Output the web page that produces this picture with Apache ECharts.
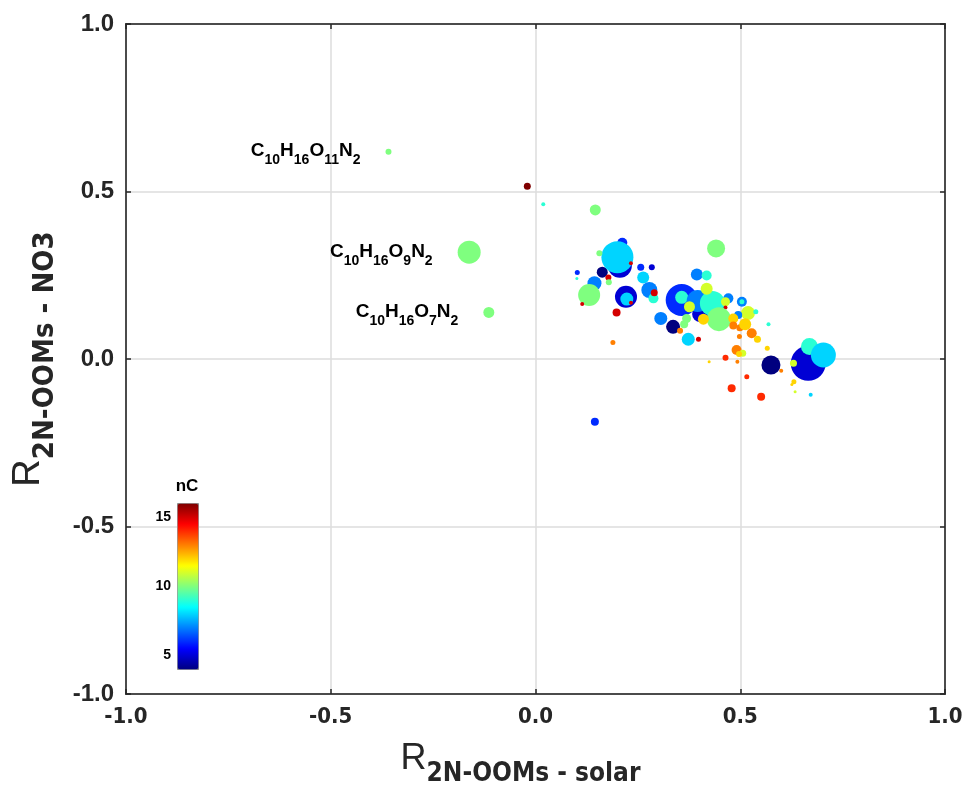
<!DOCTYPE html>
<html>
<head>
<meta charset="utf-8">
<script src="https://cdn.jsdelivr.net/npm/echarts@6/dist/echarts.min.js"></script>
<style>html,body{margin:0;padding:0;background:#fff}#c{width:972px;height:794px}</style>
</head>
<body>
<div id="c"></div>
<script>
// ---- data ----
// R with solar, R with NO3, relative signal (bubble magnitude), carbon number nC
const rSolar = [-0.359,-0.162,-0.114,-0.020,0.019,0.146,0.441,0.145,
  0.206,0.163,0.212,0.200,0.156,0.233,0.178,0.179,0.102,0.101,0.144,0.131,0.114,0.257,0.284,0.263,0.221,0.223,0.233,0.198,0.278,0.288,0.290,0.189,
  0.357,0.394,0.418,0.357,0.402,0.396,0.306,0.336,0.353,0.373,0.398,0.432,0.418,0.376,0.471,0.464,0.464,0.369,0.363,0.448,0.410,0.504,0.504,0.519,0.538,0.495,0.483,0.483,0.499,0.512,0.528,0.542,0.498,0.569,0.491,0.506,0.497,0.464,0.493,0.424,0.566,0.575,0.600,0.516,0.479,0.551,
  0.666,0.669,0.703,0.630,0.631,0.626,0.634,0.672];
const rNO3 = [0.619,0.319,0.139,0.516,0.462,0.445,0.330,-0.187,
  0.278,0.259,0.347,0.304,0.316,0.286,0.243,0.229,0.258,0.240,0.226,0.191,0.164,0.274,0.274,0.243,0.186,0.179,0.168,0.139,0.206,0.181,0.198,0.049,
  0.176,0.252,0.249,0.184,0.134,0.173,0.121,0.096,0.084,0.059,0.059,0.166,0.210,0.156,0.181,0.171,0.154,0.121,0.104,0.119,0.119,0.171,0.171,0.137,0.141,0.131,0.121,0.100,0.093,0.104,0.077,0.059,0.067,0.104,0.027,0.017,0.015,0.004,-0.008,-0.008,0.032,-0.018,-0.035,-0.053,-0.087,-0.113,
  -0.013,0.037,0.012,-0.013,-0.068,-0.076,-0.098,-0.107];
const signal = [6,23,11,7,4,11,18,8,
  24,11,10,32,6,4,6,6,5,3,14,22,4,7,6,12,22,13,4,8,16,10,7,5,
  32,12,10,13,16,22,13,14,6,13,5,25,12,11,10,9,4,9,8,24,11,10,5,14,5,8,10,8,7,12,10,7,5,4,10,7,6,6,4,3,5,19,4,5,8,8,
  35,17,25,7,5,3,3,4];
const nC = [10,10,10,16,9,10,10,6,
  5,4,6,8,10,15,15,10,6,9,7,10,15,6,5,8,5,8,15,15,7,9,15,13,
  6,7,9,9,5,7,7,4,13,8,15,9,11,11,7,11,15,10,10,10,12,7,9,11,9,7,12,13,13,12,13,12,13,9,13,11,12,14,13,12,12,4,13,14,14,14,
  5,9,8,11,12,12,11,8];
const formulas = ['C10H16O11N2','C10H16O9N2','C10H16O7N2']; // labels for the first three points
const xTicks = [-1.0,-0.5,0.0,0.5,1.0];
const yTicks = [-1.0,-0.5,0.0,0.5,1.0];
const nCRange = [4,16];
const nCTickLabels = [5,10,15];

// ---- build ----
const jet = ['#00007F','#0000FF','#007FFF','#00FFFF','#7FFF7F','#FFFF00','#FF7F00','#FF0000','#7F0000'];
const labFont = 'Liberation Sans, Arial';
const condFont = 'DejaVu Sans Condensed, Liberation Sans Narrow, Liberation Sans, Arial';
function richFormula(f){
  return f.replace(/([A-Z][a-z]?)|(\d+)/g,(m,el,num)=> el ? '{el|'+el+'}' : '{sub|'+num+'}');
}
const pts = rSolar.map((x,i)=>{
  const item = {value:[x, rNO3[i], signal[i], nC[i]]};
  if (i < formulas.length) {
    item.label = {show:true, position:'left', distance:25, offset:[0,3], formatter: richFormula(formulas[i]),
      rich:{
        el:{fontFamily:labFont, fontWeight:'bold', fontSize:19, color:'#000', lineHeight:21, verticalAlign:'top'},
        sub:{fontFamily:labFont, fontWeight:'bold', fontSize:14, color:'#000', lineHeight:26, verticalAlign:'bottom'}
      }};
  }
  return item;
});
const chart = echarts.init(document.getElementById('c'), null, {renderer:'canvas'});
const axisLine = {show:true, onZero:false, lineStyle:{color:'#262626', width:1.5}};
const tick = {show:true, inside:true, length:5, lineStyle:{color:'#262626', width:1.5}};
const gridLine = {show:true, lineStyle:{color:'#DCDCDC', width:1.5}};
chart.setOption({
  animation:false,
  backgroundColor:'#fff',
  grid:[
    {left:126, right:27, top:24, bottom:100, show:true, borderColor:'#262626', borderWidth:1.5},
    {left:177, top:503, width:21, height:166}
  ],
  xAxis:[
    {type:'value', gridIndex:0, min:xTicks[0], max:xTicks[xTicks.length-1], interval:0.5,
     axisLine, axisTick:tick, splitLine:gridLine,
     axisLabel:{fontFamily:condFont, fontWeight:'bold', fontSize:22, color:'#262626', margin:12, formatter:v=>v.toFixed(1)},
     name:'{R|R}{s|2N-OOMs - solar}', nameLocation:'middle', nameGap:47,
     nameTextStyle:{padding:[0,30,0,0], rich:{
       R:{fontFamily:labFont, fontSize:36, color:'#262626', lineHeight:34, verticalAlign:'top'},
       s:{fontFamily:condFont, fontWeight:'bold', fontSize:26, color:'#262626', lineHeight:46, verticalAlign:'bottom'}
     }}},
    {type:'value', gridIndex:0, position:'top', min:-1, max:1, interval:0.5,
     axisLine, axisTick:tick, axisLabel:{show:false}, splitLine:{show:false}},
    {type:'value', gridIndex:1, show:false, min:0, max:1}
  ],
  yAxis:[
    {type:'value', gridIndex:0, min:yTicks[0], max:yTicks[yTicks.length-1], interval:0.5,
     axisLine, axisTick:tick, splitLine:gridLine,
     axisLabel:{fontFamily:labFont, fontWeight:'bold', fontSize:24, color:'#262626', margin:12, formatter:v=>v.toFixed(1)},
     name:'{R|R}{s|2N-OOMs - NO3}', nameLocation:'middle', nameGap:66,
     nameTextStyle:{rich:{
       R:{fontFamily:labFont, fontSize:38, color:'#262626', lineHeight:36, verticalAlign:'top'},
       s:{fontFamily:condFont, fontWeight:'bold', fontSize:29, color:'#262626', lineHeight:50, verticalAlign:'bottom'}
     }}},
    {type:'value', gridIndex:0, position:'right', min:-1, max:1, interval:0.5,
     axisLine, axisTick:tick, axisLabel:{show:false}, splitLine:{show:false}},
    {type:'value', gridIndex:1, min:nCRange[0], max:nCRange[1], interval:1,
     axisLine:{show:false}, splitLine:{show:false}, axisTick:{show:false},
     axisLabel:{fontFamily:labFont, fontWeight:'bold', fontSize:14, color:'#000', margin:6,
       formatter:v=> nCTickLabels.indexOf(v) >= 0 ? String(v) : ''},
     name:'nC', nameLocation:'end', nameGap:8,
     nameTextStyle:{fontFamily:labFont, fontWeight:'bold', fontSize:17, color:'#000', align:'center', padding:[0,0,0,20]}}
  ],
  visualMap:{
    type:'continuous', min:nCRange[0], max:nCRange[1], dimension:3, seriesIndex:0,
    left:177, top:503, itemWidth:21, itemHeight:166, padding:0,
    calculable:false, showLabel:false, text:null, realtime:false,
    inRange:{color:jet}, borderColor:'#888', borderWidth:1
  },
  series:[{
    type:'scatter', xAxisIndex:0, yAxisIndex:0,
    data:pts,
    symbolSize:v=>v[2],
    itemStyle:{opacity:1},
    emphasis:{disabled:true}
  }]
});
</script>
</body>
</html>
